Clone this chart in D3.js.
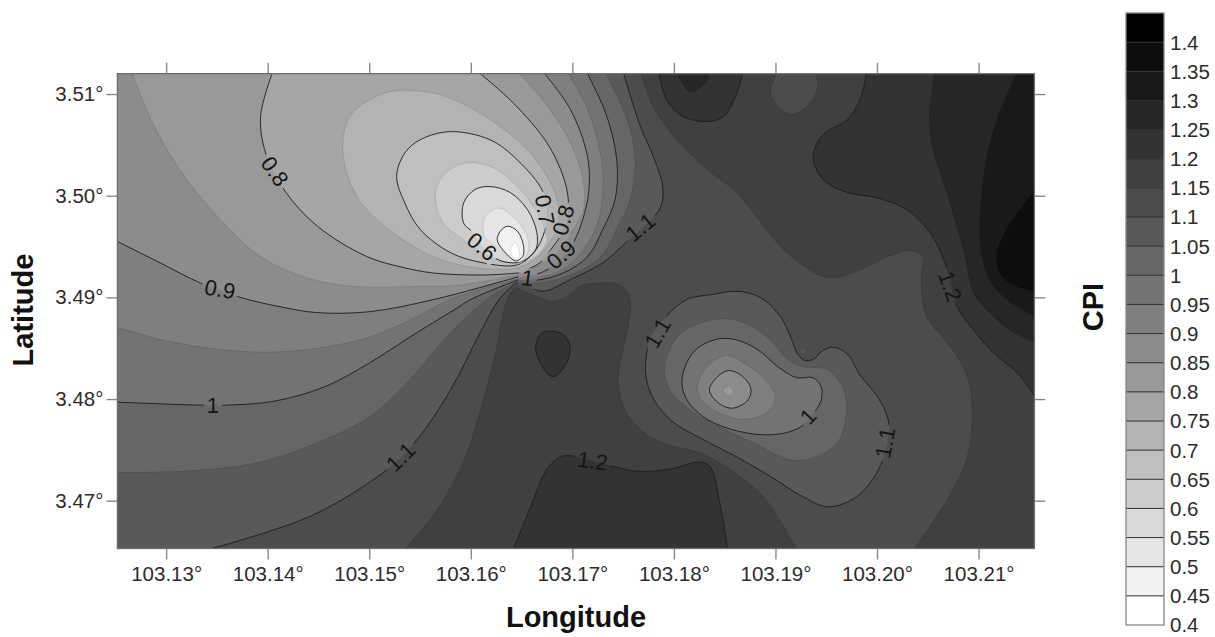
<!DOCTYPE html>
<html>

<head>
	<meta charset="utf-8">
	<title>CPI contour map</title>
	<script src="https://d3js.org/d3.v7.min.js"></script>
	<style>
		body {
			margin: 0;
			background: #fff;
		}

		text {
			font-family: "Liberation Sans", Arial, sans-serif;
			fill: #2c2c2c;
		}
	</style>
</head>

<body>
	<div id="chart"></div>
	<script>
		// axis values
		let lonExtent = [103.1252, 103.2155];
		let latExtent = [3.4653, 3.5120];
		let lonTicks = [103.13, 103.14, 103.15, 103.16, 103.17, 103.18, 103.19, 103.20, 103.21];
		let latTicks = [3.47, 3.48, 3.49, 3.50, 3.51];

		// legend
		let legendLevels = [1.4, 1.35, 1.3, 1.25, 1.2, 1.15, 1.1, 1.05, 1, 0.95, 0.9, 0.85, 0.8, 0.75, 0.7, 0.65, 0.6, 0.55, 0.5, 0.45, 0.4];

		// contour lines, [lon, lat]
		let cornerNE = [103.22, 3.52], cornerSW = [103.12, 3.46], cornerNW = [103.12, 3.52];

		let east115 = [[103.1767, 3.5122], [103.1780, 3.5087], [103.1803, 3.5055], [103.1833, 3.5026], [103.1862, 3.5003], [103.1882, 3.4979], [103.1905, 3.4950], [103.1931, 3.4929], [103.1954, 3.4919], [103.1983, 3.4927], [103.2010, 3.4940], [103.2033, 3.4946], [103.2045, 3.4940], [103.2044, 3.4924], [103.2044, 3.4908], [103.2049, 3.4881], [103.2072, 3.4852], [103.2089, 3.4822], [103.2094, 3.4783], [103.2089, 3.4743], [103.2075, 3.4711], [103.2055, 3.4679], [103.2036, 3.4652]];
		let hillOuter115 = [[103.1921, 3.4652], [103.1905, 3.4679], [103.1888, 3.4704], [103.1852, 3.4733], [103.1823, 3.4748], [103.1793, 3.4755], [103.1767, 3.4770], [103.1750, 3.4793], [103.1745, 3.4819], [103.1747, 3.4836], [103.1754, 3.4868], [103.1757, 3.4898], [103.1747, 3.4912], [103.1725, 3.4914], [103.1708, 3.4911], [103.1696, 3.4901], [103.1681, 3.4896], [103.1664, 3.4901], [103.1644, 3.4910]];
		let west115 = [[103.1644, 3.4910], [103.1636, 3.4898], [103.1623, 3.4839], [103.1609, 3.4787], [103.1594, 3.4741], [103.1567, 3.4691], [103.1535, 3.4652]];
		let blob115 = [[103.1902, 3.5122], [103.1897, 3.5111], [103.1895, 3.5101], [103.1905, 3.5085], [103.1917, 3.5080], [103.1934, 3.5091], [103.1942, 3.5107], [103.1939, 3.5122]];

		let east110 = [[103.1750, 3.5122], [103.1767, 3.5068], [103.1780, 3.5038], [103.1789, 3.5009], [103.1787, 3.4989], [103.1774, 3.4973], [103.1754, 3.4955], [103.1730, 3.4934], [103.1701, 3.4919], [103.1671, 3.4906], [103.1656, 3.4911], [103.1644, 3.4914]];
		let west110 = [[103.1644, 3.4914], [103.1628, 3.4898], [103.1609, 3.4865], [103.1580, 3.4809], [103.1547, 3.4760], [103.1518, 3.4731], [103.1449, 3.4688], [103.1383, 3.4664], [103.1341, 3.4652]];
		let hill110 = [[103.1774, 3.4849], [103.1777, 3.4861], [103.1794, 3.4883], [103.1813, 3.4898], [103.1839, 3.4903], [103.1862, 3.4906], [103.1885, 3.4900], [103.1905, 3.4881], [103.1915, 3.4861], [103.1922, 3.4844], [103.1929, 3.4838], [103.1937, 3.4839], [103.1947, 3.4848], [103.1957, 3.4851], [103.1971, 3.4844], [103.1983, 3.4824], [103.2000, 3.4803], [103.2011, 3.4780], [103.2011, 3.4760], [103.2000, 3.4728], [103.1980, 3.4704], [103.1952, 3.4694], [103.1927, 3.4704], [103.1895, 3.4724], [103.1862, 3.4743], [103.1833, 3.4758], [103.1796, 3.4780], [103.1777, 3.4806], [103.1772, 3.4829]];
		let speck105 = [[103.1925, 3.4848], [103.1929, 3.4848], [103.1929, 3.4845], [103.1925, 3.4845]];

		let east105 = [[103.1732, 3.5122], [103.1754, 3.5075], [103.1762, 3.5035], [103.1757, 3.4996], [103.1745, 3.4970], [103.1728, 3.4940], [103.1698, 3.4922], [103.1668, 3.4914], [103.1646, 3.4916]];
		let west105 = [[103.1646, 3.4916], [103.1616, 3.4898], [103.1580, 3.4865], [103.1540, 3.4819], [103.1501, 3.4783], [103.1456, 3.4760], [103.1393, 3.4738], [103.1318, 3.4729], [103.1250, 3.4728]];
		let hill105 = [[103.1791, 3.4832], [103.1803, 3.4861], [103.1826, 3.4875], [103.1852, 3.4879], [103.1878, 3.4871], [103.1898, 3.4855], [103.1912, 3.4839], [103.1927, 3.4832], [103.1951, 3.4829], [103.1966, 3.4812], [103.1970, 3.4787], [103.1961, 3.4757], [103.1937, 3.4742], [103.1915, 3.4740], [103.1878, 3.4757], [103.1846, 3.4772], [103.1819, 3.4787], [103.1796, 3.4809]];

		let east100 = [[103.1714, 3.5122], [103.1734, 3.5078], [103.1744, 3.5032], [103.1742, 3.4996], [103.1730, 3.4967], [103.1715, 3.4940], [103.1691, 3.4924], [103.1666, 3.4917], [103.1646, 3.4917]];
		let west100 = [[103.1646, 3.4917], [103.1600, 3.4898], [103.1584, 3.4888], [103.1540, 3.4861], [103.1501, 3.4836], [103.1456, 3.4812], [103.1407, 3.4798], [103.1360, 3.4794], [103.1334, 3.4794], [103.1250, 3.4797]];
		let hill100 = [[103.1808, 3.4819], [103.1819, 3.4846], [103.1839, 3.4858], [103.1858, 3.4859], [103.1882, 3.4849], [103.1902, 3.4832], [103.1921, 3.4821], [103.1937, 3.4821], [103.1945, 3.4812], [103.1945, 3.4799], [103.1939, 3.4788], [103.1924, 3.4772], [103.1898, 3.4765], [103.1865, 3.4768], [103.1833, 3.4780], [103.1813, 3.4799]];

		let east095 = [[103.1695, 3.5122], [103.1715, 3.5085], [103.1729, 3.5035], [103.1730, 3.5003], [103.1725, 3.4973], [103.1713, 3.4950], [103.1695, 3.4930], [103.1671, 3.4920], [103.1646, 3.4918]];
		let west095 = [[103.1646, 3.4918], [103.1580, 3.4898], [103.1547, 3.4881], [103.1501, 3.4861], [103.1456, 3.4851], [103.1403, 3.4846], [103.1351, 3.4849], [103.1301, 3.4857], [103.1250, 3.4871]];
		let hill095 = [[103.1823, 3.4812], [103.1833, 3.4832], [103.1852, 3.4843], [103.1868, 3.4836], [103.1888, 3.4821], [103.1900, 3.4803], [103.1892, 3.4787], [103.1868, 3.4780], [103.1843, 3.4787], [103.1828, 3.4798]];

		let east090 = [[103.1671, 3.5122], [103.1698, 3.5085], [103.1715, 3.5038], [103.1716, 3.5003], [103.1710, 3.4976], [103.1701, 3.4954], [103.1688, 3.4937], [103.1671, 3.4925], [103.1646, 3.4920]];
		let west090 = [[103.1646, 3.4920], [103.1564, 3.4898], [103.1501, 3.4886], [103.1449, 3.4885], [103.1416, 3.4890], [103.1373, 3.4900], [103.1334, 3.4914], [103.1294, 3.4934], [103.1250, 3.4956]];
		let hill090 = [[103.1835, 3.4809], [103.1843, 3.4822], [103.1854, 3.4828], [103.1868, 3.4822], [103.1876, 3.4809], [103.1872, 3.4798], [103.1857, 3.4791], [103.1843, 3.4797]];

		let east085 = [[103.1646, 3.5122], [103.1671, 3.5094], [103.1695, 3.5058], [103.1710, 3.5019], [103.1711, 3.4986], [103.1701, 3.4967], [103.1688, 3.4947], [103.1668, 3.4932], [103.1646, 3.4922]];
		let west085 = [[103.1646, 3.4922], [103.1590, 3.4912], [103.1557, 3.4911], [103.1481, 3.4911], [103.1436, 3.4920], [103.1393, 3.4940], [103.1351, 3.4979], [103.1311, 3.5029], [103.1285, 3.5075], [103.1266, 3.5122]];
		let hill085 = [[103.1848, 3.4809], [103.1854, 3.4813], [103.1859, 3.4807], [103.1854, 3.4803]];

		let east080 = [[103.1607, 3.5122], [103.1642, 3.5091], [103.1675, 3.5052], [103.1691, 3.5019], [103.1696, 3.4996], [103.1695, 3.4976], [103.1688, 3.4960], [103.1681, 3.4950], [103.1668, 3.4934], [103.1647, 3.4924]];
		let west080 = [[103.1647, 3.4924], [103.1612, 3.4922], [103.1563, 3.4924], [103.1531, 3.4930], [103.1498, 3.4940], [103.1449, 3.4970], [103.1416, 3.5006], [103.1398, 3.5042], [103.1393, 3.5078], [103.1405, 3.5122]];

		let loop075 = [[103.1474, 3.5042], [103.1481, 3.5078], [103.1515, 3.5101], [103.1550, 3.5103], [103.1580, 3.5096], [103.1619, 3.5075], [103.1656, 3.5045], [103.1675, 3.5019], [103.1685, 3.4996], [103.1685, 3.4970], [103.1675, 3.4950], [103.1662, 3.4937], [103.1646, 3.4929], [103.1606, 3.4929], [103.1563, 3.4940], [103.1515, 3.4970], [103.1488, 3.4999]];
		let loop070 = [[103.1527, 3.5019], [103.1535, 3.5042], [103.1550, 3.5055], [103.1580, 3.5063], [103.1619, 3.5055], [103.1646, 3.5035], [103.1671, 3.5004], [103.1675, 3.4981], [103.1671, 3.4960], [103.1662, 3.4944], [103.1646, 3.4932], [103.1612, 3.4934], [103.1580, 3.4944], [103.1550, 3.4967], [103.1535, 3.4993]];
		let loop065 = [[103.1565, 3.4999], [103.1572, 3.5019], [103.1593, 3.5032], [103.1619, 3.5029], [103.1642, 3.5013], [103.1662, 3.4989], [103.1671, 3.4970], [103.1675, 3.4957], [103.1668, 3.4944], [103.1652, 3.4934], [103.1626, 3.4937], [103.1597, 3.4954], [103.1573, 3.4973]];
		let loop060 = [[103.1593, 3.4973], [103.1593, 3.4993], [103.1604, 3.5006], [103.1619, 3.5009], [103.1639, 3.5003], [103.1656, 3.4986], [103.1665, 3.4964], [103.1664, 3.4947], [103.1652, 3.4936], [103.1642, 3.4934], [103.1627, 3.4937], [103.1611, 3.4950], [103.1602, 3.4964]];
		let loop055 = [[103.1612, 3.4967], [103.1614, 3.4979], [103.1627, 3.4988], [103.1642, 3.4979], [103.1654, 3.4964], [103.1657, 3.4947], [103.1649, 3.4935], [103.1642, 3.4937], [103.1626, 3.4950], [103.1614, 3.4960]];
		let loop050 = [[103.1626, 3.4957], [103.1629, 3.4965], [103.1636, 3.4970], [103.1646, 3.4965], [103.1652, 3.4950], [103.1651, 3.4940], [103.1644, 3.4936], [103.1636, 3.4942], [103.1629, 3.4950]];
		let loop045 = [[103.1639, 3.4947], [103.1644, 3.4954], [103.1648, 3.4940], [103.1644, 3.4937]];

		let island120 = [[103.1664, 3.4852], [103.1670, 3.4865], [103.1688, 3.4865], [103.1697, 3.4855], [103.1695, 3.4837], [103.1681, 3.4822], [103.1671, 3.4831], [103.1665, 3.4844]];
		let south120 = [[103.1642, 3.4652], [103.1659, 3.4694], [103.1675, 3.4731], [103.1688, 3.4743], [103.1700, 3.4744], [103.1739, 3.4734], [103.1764, 3.4729], [103.1796, 3.4731], [103.1826, 3.4738], [103.1836, 3.4733], [103.1844, 3.4704], [103.1853, 3.4652]];
		let north120 = [[103.1785, 3.5122], [103.1793, 3.5094], [103.1809, 3.5078], [103.1833, 3.5073], [103.1849, 3.5078], [103.1862, 3.5101], [103.1868, 3.5122]];
		let north125 = [[103.1803, 3.5122], [103.1816, 3.5102], [103.1833, 3.5114], [103.1834, 3.5122]];
		let east120 = [[103.1990, 3.5122], [103.1983, 3.5094], [103.1971, 3.5075], [103.1947, 3.5060], [103.1937, 3.5038], [103.1947, 3.5016], [103.1971, 3.5003], [103.2000, 3.4998], [103.2030, 3.4986], [103.2052, 3.4964], [103.2067, 3.4934], [103.2079, 3.4891], [103.2095, 3.4868], [103.2114, 3.4846], [103.2138, 3.4826], [103.2158, 3.4799]];
		let east125 = [[103.2057, 3.5122], [103.2052, 3.5078], [103.2055, 3.5048], [103.2072, 3.4993], [103.2087, 3.4940], [103.2095, 3.4905], [103.2108, 3.4888], [103.2131, 3.4868], [103.2158, 3.4855]];
		let east130 = [[103.2138, 3.5122], [103.2114, 3.5062], [103.2104, 3.5009], [103.2102, 3.4950], [103.2111, 3.4917], [103.2128, 3.4898], [103.2158, 3.4880]];
		let east135 = [[103.2158, 3.5008], [103.2128, 3.4967], [103.2118, 3.4940], [103.2124, 3.4920], [103.2138, 3.4911], [103.2158, 3.4906]];

		// contour labels
		let labelTexts = ["0.8", "0.9", "1", "1.1", "0.6", "0.7", "0.8", "0.9", "1", "1.1", "1.1", "1", "1.1", "1.2", "1.2"];
		let labelLons = [103.1407, 103.1353, 103.1346, 103.1531, 103.1611, 103.1673, 103.1691, 103.1689, 103.1656, 103.1767, 103.1784, 103.1932, 103.2008, 103.2072, 103.1720];
		let labelLats = [3.5024, 3.4908, 3.4794, 3.4743, 3.4950, 3.4986, 3.4976, 3.4942, 3.4919, 3.4969, 3.4865, 3.4783, 3.4757, 3.4911, 3.4739];
		let labelAngles = [55, 10, 0, -45, 40, 80, -75, -42, 8, -40, -60, -47, -80, 70, 8];

		// painter's order: the 1.15-1.2 band is the background, higher bands then lower bands on top
		let regions = [
			{ level: 1.2, band: 1.2, segs: [south120] },
			{ level: 1.2, band: 1.2, segs: [island120], closed: true },
			{ level: 1.2, band: 1.2, segs: [north120] },
			{ level: 1.25, band: 1.25, segs: [north125] },
			{ level: 1.2, band: 1.2, segs: [east120], via: [cornerNE] },
			{ level: 1.25, band: 1.25, segs: [east125], via: [cornerNE] },
			{ level: 1.3, band: 1.3, segs: [east130], via: [cornerNE] },
			{ level: 1.35, band: 1.35, segs: [east135] },
			{ level: 1.15, band: 1.1, segs: [east115, hillOuter115, west115], via: [cornerSW, cornerNW] },
			{ level: 1.15, band: 1.1, segs: [blob115] },
			{ level: 1.1, band: 1.05, segs: [east110, west110], via: [cornerSW, cornerNW] },
			{ level: 1.1, band: 1.05, segs: [hill110], closed: true },
			{ level: 1.05, band: 1.05, segs: [speck105], closed: true },
			{ level: 1.05, band: 1, segs: [east105, west105], via: [cornerSW, cornerNW] },
			{ level: 1.05, band: 1, segs: [hill105], closed: true },
			{ level: 1, band: 0.95, segs: [east100, west100], via: [cornerSW, cornerNW] },
			{ level: 1, band: 0.95, segs: [hill100], closed: true },
			{ level: 0.95, band: 0.9, segs: [east095, west095], via: [cornerSW, cornerNW] },
			{ level: 0.95, band: 0.9, segs: [hill095], closed: true },
			{ level: 0.9, band: 0.85, segs: [east090, west090], via: [cornerSW, cornerNW] },
			{ level: 0.9, band: 0.85, segs: [hill090], closed: true },
			{ level: 0.85, band: 0.8, segs: [east085, west085], via: [cornerNW] },
			{ level: 0.85, band: 0.8, segs: [hill085], closed: true },
			{ level: 0.8, band: 0.75, segs: [east080, west080] },
			{ level: 0.75, band: 0.7, segs: [loop075], closed: true },
			{ level: 0.7, band: 0.65, segs: [loop070], closed: true },
			{ level: 0.65, band: 0.6, segs: [loop065], closed: true },
			{ level: 0.6, band: 0.55, segs: [loop060], closed: true },
			{ level: 0.55, band: 0.5, segs: [loop055], closed: true },
			{ level: 0.5, band: 0.45, segs: [loop050], closed: true },
			{ level: 0.45, band: 0.4, segs: [loop045], closed: true }
		];

		let svg = d3.select("#chart").append("svg").attr("width", 1215).attr("height", 637);

		let x = d3.scaleLinear().domain(lonExtent).range([117.4, 1034.4]);
		let y = d3.scaleLinear().domain(latExtent).range([548.5, 73.7]);
		let grey = d3.scaleLinear().domain([1.4, 0.4]).range(["#000000", "#ffffff"]).clamp(true);

		let openLine = d3.line().x(d => x(d[0])).y(d => y(d[1])).curve(d3.curveCatmullRom.alpha(0.5));
		let closedLine = d3.line().x(d => x(d[0])).y(d => y(d[1])).curve(d3.curveCatmullRomClosed.alpha(0.5));

		function regionPath(r) {
			if (r.closed) return closedLine(r.segs[0]);
			let d = r.segs.map(s => openLine(s)).join("");
			let first = true;
			d = d.replace(/M/g, () => {
				if (first) {
					first = false;
					return "M";
				}
				return "L";
			});
			if (r.via) r.via.forEach(c => {
				d += "L" + x(c[0]) + "," + y(c[1]);
			});
			return d + "Z";
		}

		let defs = svg.append("defs");
		defs.append("clipPath").attr("id", "plot").append("rect")
			.attr("x", x.range()[0]).attr("y", y.range()[1])
			.attr("width", x.range()[1] - x.range()[0]).attr("height", y.range()[0] - y.range()[1]);

		let map = svg.append("g").attr("clip-path", "url(#plot)");
		map.append("rect")
			.attr("x", x.range()[0]).attr("y", y.range()[1])
			.attr("width", x.range()[1] - x.range()[0]).attr("height", y.range()[0] - y.range()[1])
			.attr("fill", grey(1.15));

		map.selectAll("path.band").data(regions).enter().append("path")
			.attr("class", "band")
			.attr("d", regionPath)
			.attr("fill", d => grey(d.band));

		// every 0.1 is a black line, the ones between are a shade darker than their band
		let isMajor = v => Math.abs(v * 10 - Math.round(v * 10)) < 0.01;
		let lineData = [];
		regions.forEach(r => r.segs.forEach(s => lineData.push({ level: r.level, pts: s, closed: r.closed })));

		let mask = defs.append("mask").attr("id", "gaps").attr("maskUnits", "userSpaceOnUse")
			.attr("x", 0).attr("y", 0).attr("width", 1215).attr("height", 637);
		mask.append("rect").attr("width", 1215).attr("height", 637).attr("fill", "#fff");

		map.append("g").attr("mask", "url(#gaps)")
			.selectAll("path").data(lineData).enter().append("path")
			.attr("d", d => d.closed ? closedLine(d.pts) : openLine(d.pts))
			.attr("fill", "none")
			.attr("stroke", d => isMajor(d.level) ? "#1c1c1c" : d3.color(grey(d.level)).darker(0.35))
			.attr("stroke-width", d => isMajor(d.level) ? 0.9 : 0.8);

		labelTexts.forEach((t, i) => {
			let tr = "translate(" + x(labelLons[i]) + "," + y(labelLats[i]) + ") rotate(" + labelAngles[i] + ")";
			let label = svg.append("text").attr("transform", tr)
				.attr("text-anchor", "middle").attr("dy", "0.35em")
				.style("font-size", "22px").style("fill", "#151515").text(t);
			let len = label.node().getComputedTextLength() + 6;
			mask.append("rect").attr("transform", tr)
				.attr("x", -len / 2).attr("y", -10).attr("width", len).attr("height", 20).attr("fill", "#000");
		});

		// axes
		let degFormat = d => d3.format(".2f")(d) + "°";
		let styleAxis = g => {
			g.select(".domain").remove();
			g.selectAll(".tick line").attr("stroke", "#8a8a8a").attr("stroke-width", 1.4);
			g.selectAll("text").style("font-size", "20.5px");
		};

		svg.append("g").attr("transform", "translate(0," + y.range()[0] + ")")
			.call(d3.axisBottom(x).tickValues(lonTicks).tickFormat(degFormat).tickSize(11).tickPadding(7))
			.call(styleAxis);
		svg.append("g").attr("transform", "translate(0," + y.range()[1] + ")")
			.call(d3.axisTop(x).tickValues(lonTicks).tickFormat("").tickSize(11))
			.call(styleAxis);
		svg.append("g").attr("transform", "translate(" + x.range()[0] + ",0)")
			.call(d3.axisLeft(y).tickValues(latTicks).tickFormat(degFormat).tickSize(11).tickPadding(3))
			.call(styleAxis);
		svg.append("g").attr("transform", "translate(" + x.range()[1] + ",0)")
			.call(d3.axisRight(y).tickValues(latTicks).tickFormat("").tickSize(11))
			.call(styleAxis);

		svg.append("rect")
			.attr("x", x.range()[0]).attr("y", y.range()[1])
			.attr("width", x.range()[1] - x.range()[0]).attr("height", y.range()[0] - y.range()[1])
			.attr("fill", "none").attr("stroke", "#6e6e6e").attr("stroke-width", 1.3);

		svg.append("text").attr("x", 576).attr("y", 627).attr("text-anchor", "middle")
			.style("font-size", "29px").style("font-weight", "bold").style("fill", "#111").text("Longitude");
		svg.append("text").attr("transform", "translate(33,310) rotate(-90)").attr("text-anchor", "middle")
			.style("font-size", "29px").style("font-weight", "bold").style("fill", "#111").text("Latitude");
		svg.append("text").attr("transform", "translate(1103,307) rotate(-90)").attr("text-anchor", "middle")
			.style("font-size", "29px").style("font-weight", "bold").style("fill", "#111").text("CPI");

		// legend
		let ly = d3.scaleLinear().domain([1.45, 0.4]).range([13, 625]);
		let legend = svg.append("g");
		legend.selectAll("rect").data(legendLevels).enter().append("rect")
			.attr("x", 1126).attr("width", 38)
			.attr("y", d => ly(d + 0.05))
			.attr("height", d => ly(d) - ly(d + 0.05))
			.attr("fill", d => grey(d));
		legend.selectAll("line").data(legendLevels.slice(0, -1)).enter().append("line")
			.attr("x1", 1126).attr("x2", 1164)
			.attr("y1", d => ly(d)).attr("y2", d => ly(d))
			.attr("stroke", "#2e2e2e").attr("stroke-width", 1);
		legend.append("rect")
			.attr("x", 1126).attr("y", 13).attr("width", 38).attr("height", 612)
			.attr("fill", "none").attr("stroke", "#888").attr("stroke-width", 1.3);
		legend.selectAll("text").data(legendLevels).enter().append("text")
			.attr("x", 1170).attr("y", d => ly(d)).attr("dy", "0.36em")
			.style("font-size", "20.5px")
			.text(d => d3.format("~g")(d));
	</script>
</body>

</html>
